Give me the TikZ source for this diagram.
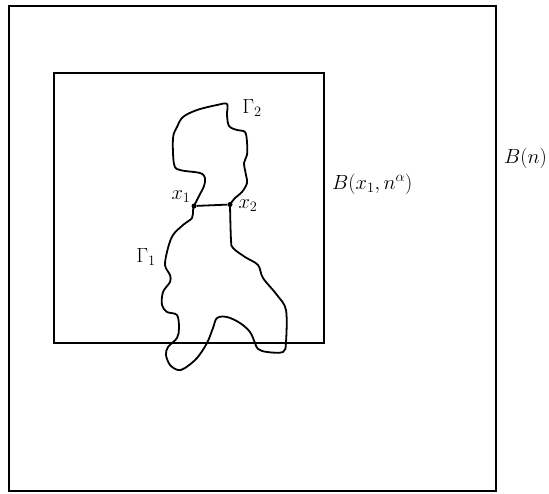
\documentclass[tikz,border=0pt]{standalone}
\usepackage{fix-cm}
\begin{document}
\begin{tikzpicture}[x=1pt,y=-1pt,
  box/.style={line width=1.5pt},
  curve/.style={line width=1.8pt,line join=round},
  lab/.style={font=\fontsize{20.5}{24}\selectfont,inner sep=0pt},
  pt/.style={circle,fill,inner sep=0pt,minimum size=5pt}]
\useasboundingbox (0,0) rectangle (549,493);
\draw[box] (9,6) rectangle (496,491);
\draw[box] (54,73) rectangle (324,343);
\node[pt] (x1) at (194,206) {};
\node[pt] (x2) at (230,204.5) {};
\draw[curve] plot[smooth,tension=0.55] coordinates {(194,206) (199,196) (204,186) (205,178) (200,173) (180,170) (174,164) (173,138) (177,127) (183,117) (197,110) (217,105) (227,104) (227,115) (229,126) (237,130) (245,132) (247,142) (247,155) (244,163) (246,175) (247,183) (242,192) (235,198) (230,204.5)};
\draw[curve] plot[smooth,tension=0.55] coordinates {(230,204.5) (231,240) (233,248) (245,257) (258,265) (263,278) (277,295) (286,310) (286,342) (283,352) (267,352) (258,349) (255,343) (250,332) (240,323) (227,317) (217,318) (213,328) (207,343) (197,358) (185,368) (178,370) (170,365) (166,355) (168,347) (177,338) (179,328) (177,315) (167,312) (162,305) (163,292) (170,282) (170,275) (165,265) (168,248) (173,235) (183,225) (192,218) (193,210) (194,206)};
\draw[curve] (x1) -- (x2);
\node[lab] (g2) at (252,108) {$\Gamma_2$};
\node[lab] (lx1) at (181,197) {$x_1$};
\node[lab] (lx2) at (248,206) {$x_2$};
\node[lab] (g1) at (146,257) {$\Gamma_1$};
\node[lab,anchor=west] (bx) at (332,184) {$B(x_1,n^\alpha)$};
\node[lab,anchor=west] (bn) at (504,158) {$B(n)$};
\end{tikzpicture}
\end{document}
